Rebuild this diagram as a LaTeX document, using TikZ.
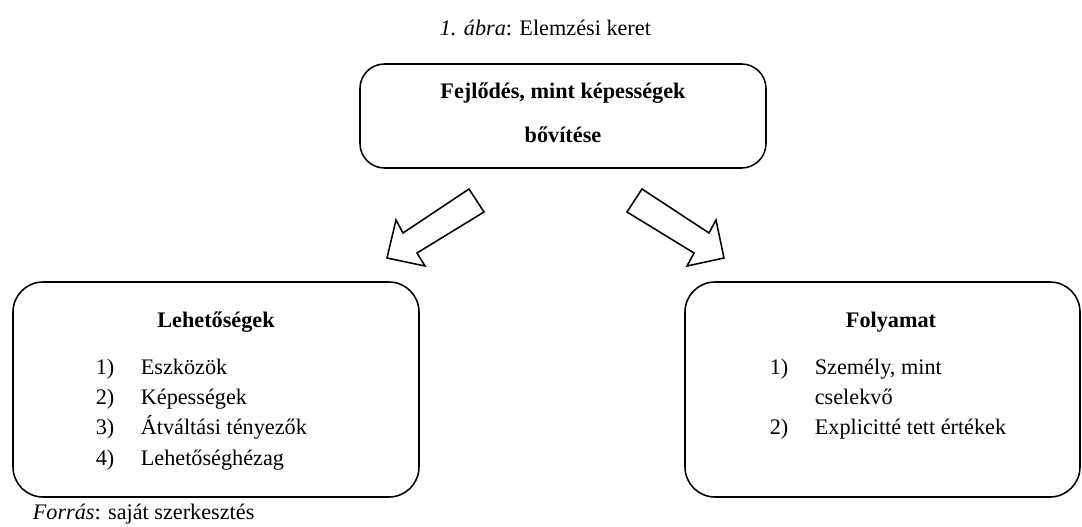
\documentclass[tikz,border=0pt]{standalone}
\usepackage{fontspec}
\setmainfont{Liberation Serif}
\usetikzlibrary{positioning}
\tikzset{
  keret/.style={draw, line width=0.7pt, inner sep=0pt},
  blokknyil/.style={draw, line width=0.7pt, fill=white, line join=miter},
  fejlec/.style={font=\bfseries, anchor=base},
  tetel/.style={anchor=base west}
}
\begin{document}
\begin{tikzpicture}[x=0.45pt, y=-0.45pt]
  \useasboundingbox (0,0) rectangle (1082,527);
  % cim
  \node[anchor=base west] (abra) at (432,36) {\textit{1. ábra}: Elemzési keret};
  % dobozok
  \node[keret, rounded corners=11pt, minimum width=182.7pt, minimum height=46.8pt] (fejlodes) at (563,116) {};
  \node[keret, rounded corners=13.5pt, minimum width=182.7pt, minimum height=96.75pt] (lehet) at (216,389.5) {};
  \node[keret, rounded corners=13.5pt, minimum width=177.75pt, minimum height=96.75pt] (folyamat) at (882.5,389.5) {};
  \node[fejlec] (fejl1) at (563,99) {Fejlődés, mint képességek};
  \node[fejlec] (fejl2) at (563,143) {bővítése};
  % nyilak
  \draw[blokknyil] (469,189) -- (403,233) -- (396,220) -- (387,258) -- (425,266) -- (417,253) -- (484,212) -- cycle;
  \draw[blokknyil] (642,189) -- (709,233) -- (716,220) -- (724,258) -- (687,266) -- (694,253) -- (627,212) -- cycle;
  % lehetosegek
  \node[fejlec] (lehetcim) at (216,328) {Lehetőségek};
  \foreach \i/\t in {1/Eszközök, 2/Képességek, 3/Átváltási tényezők, 4/Lehetőséghézag}{
    \node[tetel] (ln\i) at (88,345+30*\i) {\i)};
    \node[tetel] (lt\i) at (133,345+30*\i) {\t};
  }
  % folyamat
  \node[fejlec] (folycim) at (891,328) {Folyamat};
  \node[tetel] (fn1) at (762,375) {1)};
  \node[tetel] (ft1) at (807,375) {Személy, mint};
  \node[tetel] (ft1b) at (807,405) {cselekvő};
  \node[tetel] (fn2) at (762,435) {2)};
  \node[tetel] (ft2) at (807,435) {Explicitté tett értékek};
  % forras
  \node[anchor=base west] (forras) at (25,520) {\textit{Forrás}: saját szerkesztés};
\end{tikzpicture}
\end{document}
